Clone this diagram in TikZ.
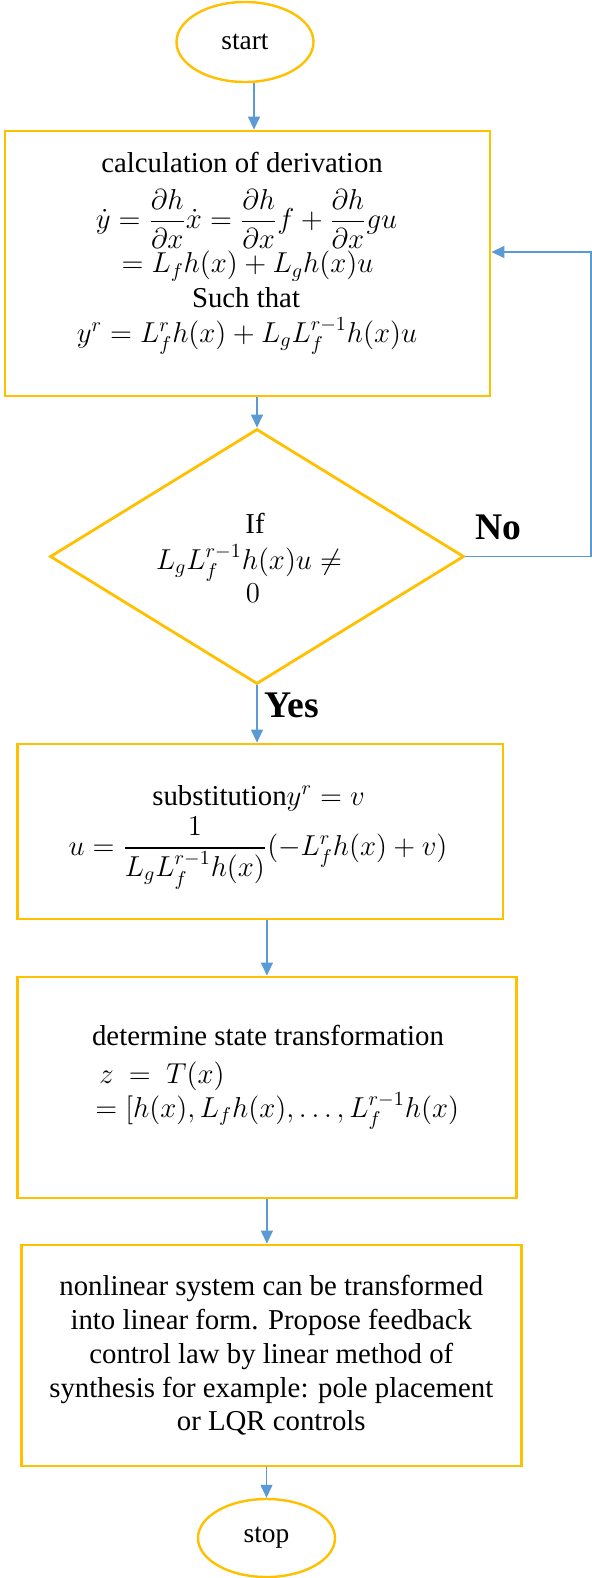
\documentclass[tikz,border=0pt]{standalone}
\usepackage{amsmath}
\usepackage{fontspec}
\setmainfont{Liberation Serif}
\usetikzlibrary{arrows.meta,positioning,shapes.geometric}

\definecolor{boxgold}{HTML}{FFC000}
\definecolor{flowblue}{HTML}{5B9BD5}

\begin{document}
\begin{tikzpicture}[x=0.5pt, y=-0.5pt,
        box/.style={draw=boxgold, line width=1.4pt, inner sep=0pt},
        term/.style={ellipse, draw=boxgold, line width=1.2pt, inner sep=0pt,
            minimum width=68.5pt, minimum height=40pt, font=\fontsize{13.7}{16}\selectfont},
        cond/.style={diamond, draw=boxgold, line width=1.4pt, inner sep=0pt},
        txt/.style={align=center, inner sep=0pt, font=\fontsize{14.4}{16.9}\selectfont},
        lbl/.style={inner sep=0pt, font=\fontsize{18.8}{22}\selectfont\bfseries},
        arr/.style={-{Triangle[length=6.5pt, width=6pt]}, draw=flowblue, line width=0.65pt}
    ]
    \useasboundingbox (0,0) rectangle (592,1578);

    \node[term] (start) at (245,42) {start};

    % derivation box
    \node[box, minimum width=242.5pt, minimum height=132.5pt] (calc) at (247.5,263.5) {};
    \node[txt] (calc1) at (242,163) {calculation of derivation};
    \node[txt] (calc2) at (246.5,219) {$\dot{y}=\dfrac{\partial h}{\partial x}\dot{x}=\dfrac{\partial h}{\partial x}f+\dfrac{\partial h}{\partial x}gu$};
    \node[txt] (calc3) at (247.5,266) {$=L_fh(x)+L_gh(x)u$};
    \node[txt] (calc4) at (246,298) {Such that};
    \node[txt] (calc5) at (247,336) {$y^r=L_f^rh(x)+L_gL_f^{r-1}h(x)u$};

    % decision
    \node[cond, minimum width=207pt, minimum height=127.5pt] (test) at (257,556.5) {};
    \node[txt] (test1) at (255,523) {If};
    \node[txt] (test2) at (249,563) {$L_gL_f^{r-1}h(x)u\neq$};
    \node[txt] (test3) at (253,593) {$0$};

    % substitution box
    \node[box, minimum width=242.6pt, minimum height=87.5pt] (subst) at (260.3,831.5) {};
    \node[txt] (subst1) at (258.5,798) {substitution$y^r=v$};
    \node[txt] (subst2) at (258,853) {$u=\dfrac{1}{L_gL_f^{r-1}h(x)}(-L_f^rh(x)+v)$};

    % state transformation box
    \node[box, minimum width=249.2pt, minimum height=110.5pt] (trans) at (266.9,1087.5) {};
    \node[txt] (trans1) at (268,1035) {determine state transformation};
    \node[txt, anchor=west] (trans2) at (99,1076) {$z\ =\ T(x)$};
    \node[txt, anchor=west] (trans3) at (95,1111) {$=[h(x),L_fh(x),\ldots,L_f^{r-1}h(x)$};

    \node[box, txt, minimum width=249.8pt, minimum height=110.5pt] (law) at (271.3,1355.5)
        {nonlinear system can be transformed\\ into linear form. Propose feedback\\
         control law by linear method of\\ synthesis for example: pole placement\\ or LQR controls};
    \node[term, minimum height=39pt] (stop) at (266.5,1538) {stop};

    \node[lbl] (no) at (498,527) {No};
    \node[lbl] (yes) at (291.5,705) {Yes};

    \draw[arr] ([xshift=4.5pt]start.south) -- ([xshift=4.5pt]start.south |- calc.north);
    \draw[arr] (calc.south -| test.north) -- (test.north);
    \draw[arr] (test.south) -- (test.south |- subst.north);
    \draw[arr] (subst.south -| trans.north) -- (trans.north);
    \draw[arr] (trans.south) -- (trans.south |- law.north);
    \draw[arr] (law.south -| stop.north) -- (stop.north);
    % back to the derivation box
    \coordinate (back) at (591,252);
    \draw[arr] (test.east) -- (test.east -| back) -- (back) -- (back -| calc.east);
\end{tikzpicture}
\end{document}
